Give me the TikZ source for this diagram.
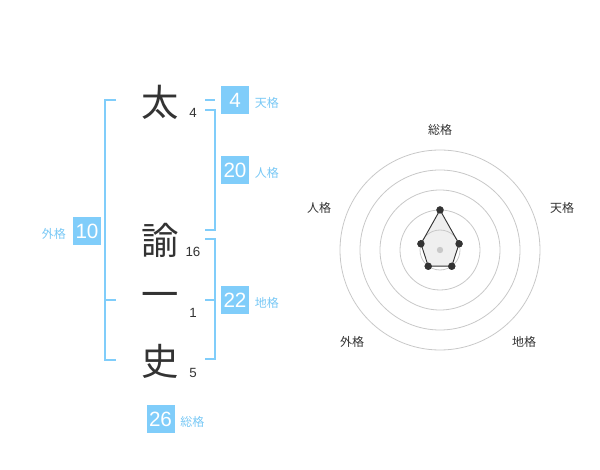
\documentclass[tikz,border=0pt]{standalone}
\usepackage{fontspec}
\setmainfont{Liberation Sans}
\newfontfamily\cjk{Noto Sans CJK JP}
\usetikzlibrary{positioning}

\definecolor{kakublue}{RGB}{128,205,250}
\definecolor{kakutext}{RGB}{120,200,245}
\definecolor{ringgray}{RGB}{200,200,200}
\definecolor{inkgray}{RGB}{51,51,51}
\definecolor{polyfill}{RGB}{239,239,239}

\tikzset{
  kanji/.style={font=\cjk\fontsize{28}{28}\selectfont, text=inkgray, inner sep=0pt},
  strokes/.style={font=\fontsize{10}{10}\selectfont, text=inkgray, inner sep=0pt},
  kakubox/.style={fill=kakublue, text=white, minimum size=21pt, inner sep=0pt,
    font=\fontsize{15.5}{15.5}\selectfont},
  kakulabel/.style={font=\cjk\fontsize{9}{9}\selectfont, text=kakutext, inner sep=0pt},
  bracket/.style={draw=kakublue, line width=1.5pt},
  ring/.style={draw=ringgray, line width=0.6pt},
  axislabel/.style={font=\cjk\fontsize{9}{9}\selectfont, text=inkgray, inner sep=0pt},
  dot/.style={circle, fill=inkgray, minimum size=5.5pt, inner sep=0pt},
}

\begin{document}
\begin{tikzpicture}[x=0.75pt,y=-0.75pt]
    \useasboundingbox (0,0) rectangle (600,470);

    % name characters and stroke counts
    \node[kanji] (c1) at (160.5,102) {太};
    \node[kanji] (c2) at (160.5,240) {諭};
    \node[kanji] (c3) at (160.5,300) {一};
    \node[kanji] (c4) at (160.5,361) {史};
    \node[strokes] (n1) at (193,113) {4};
    \node[strokes] (n2) at (193,252) {16};
    \node[strokes] (n3) at (193,313) {1};
    \node[strokes] (n4) at (193,373) {5};

    % brackets
    \draw[bracket] (116,100) -- (105,100) -- (105,360) -- (116,360);
    \draw[bracket] (105,300) -- (116,300);
    \draw[bracket] (205,100) -- (215,100);
    \draw[bracket] (205,110) -- (215,110) -- (215,230) -- (205,230);
    \draw[bracket] (205,239) -- (215,239) -- (215,359) -- (205,359);
    \draw[bracket] (205,300) -- (215,300);

    % kaku boxes
    \node[kakubox] (ten) at (235,100) {4};
    \node[kakubox] (jin) at (235,170) {20};
    \node[kakubox] (chi) at (235,300) {22};
    \node[kakubox] (gai) at (87,231) {10};
    \node[kakubox] (sou) at (160.5,419) {26};
    \node[kakulabel,right=4pt of ten,yshift=-2pt] (tenl) {天格};
    \node[kakulabel,right=4pt of jin,yshift=-2pt] (jinl) {人格};
    \node[kakulabel,right=4pt of chi,yshift=-2pt] (chil) {地格};
    \node[kakulabel,left=5pt of gai,yshift=-2pt] (gail) {外格};
    \node[kakulabel,right=4pt of sou,yshift=-2pt] (soul) {総格};

    % radar chart
    \begin{scope}[shift={(440,250)},x=0.75pt,y=0.75pt]
        \node[dot] (psou) at (90:40) {};
        \node[dot] (pten) at (18:20) {};
        \node[dot] (pchi) at (-54:20) {};
        \node[dot] (pgai) at (-126:20) {};
        \node[dot] (pjin) at (162:20) {};
        \fill[polyfill] (psou.center) -- (pten.center) -- (pchi.center)
            -- (pgai.center) -- (pjin.center) -- cycle;
        \foreach \r in {20,40,60,80,100}
            \draw[ring] (0,0) circle[radius=\r*0.75pt];
        \fill[ringgray] (0,0) circle[radius=2.4pt];
        \draw[inkgray,line width=0.7pt] (psou.center) -- (pten.center) -- (pchi.center)
            -- (pgai.center) -- (pjin.center) -- cycle;
        \foreach \p in {psou,pten,pchi,pgai,pjin}
            \node[dot] at (\p) {};

        \node[axislabel] (asou) at (0,120) {総格};
        \node[axislabel] (aten) at (122,42) {天格};
        \node[axislabel] (achi) at (84,-92) {地格};
        \node[axislabel] (agai) at (-88,-92) {外格};
        \node[axislabel] (ajin) at (-121,42) {人格};
    \end{scope}
\end{tikzpicture}
\end{document}
